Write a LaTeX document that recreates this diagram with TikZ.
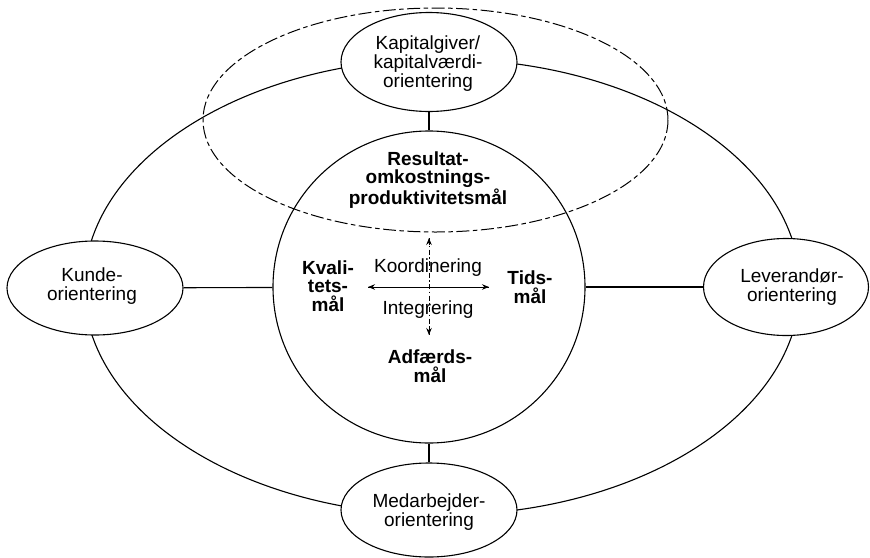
\documentclass[tikz,border=0pt]{standalone}
\usepackage{fontspec}
\setmainfont{Liberation Sans}
\usetikzlibrary{shapes.geometric,arrows.meta}
\begin{document}
\begin{tikzpicture}[x=1pt,y=-1pt,
  line width=1.1pt,
  every node/.style={font=\fontsize{19}{19}\selectfont, align=center, inner sep=0pt},
  orient/.style={ellipse, draw, fill=white, line width=1.1pt},
  goal/.style={font=\fontsize{19}{18.5}\selectfont\bfseries},
  tip/.style={-{Stealth[length=7pt,width=5.5pt]}}
]
\useasboundingbox (0,0) rectangle (870,557);

% outer ring linking the four orientations
\draw (442,287) ellipse [x radius=358, y radius=228];

% owner / capital-value field
\draw[line width=1pt, dash pattern=on 13pt off 3.5pt on 4.5pt off 3.5pt]
  (435.5,120) ellipse [x radius=232.5, y radius=112];

% goal circle
\node[circle, draw, line width=1.1pt, minimum size=312pt] (circ) at (429,287) {};

% orientations
\node[orient, minimum width=176pt, minimum height=99pt] (kap) at (429,62) {};
\node[orient, minimum width=176pt, minimum height=94pt] (kun) at (95,288) {};
\node[orient, minimum width=165pt, minimum height=97pt] (lev) at (786,287) {};
\node[orient, minimum width=176pt, minimum height=94pt] (med) at (429,510) {};

\node (kapt) at (428,64) {Kapitalgiver/\\kapitalværdi-\\orientering};
\node (kunt) at (92,286) {Kunde-\\orientering};
\node (levt) at (792,287) {Leverandør-\\orientering};
\node (medt) at (429,512) {Medarbejder-\\orientering};

% spokes
\draw (kap) -- (circ);
\draw (med) -- (circ);
\draw (kun) -- (circ);
\draw (lev) -- (circ);

% goals inside the circle
\node[goal] (res) at (428,180) {Resultat-\\omkostnings-\\produktivitetsmål};
\node[goal] (kva) at (328,286) {Kvali-\\tets-\\mål};
\node[goal] (tid) at (530,287) {Tids-\\mål};
\node[goal] (adf) at (430,366) {Adfærds-\\mål};

% coordination and integration axes
\coordinate (hl) at (368,287);
\coordinate (hr) at (489,287);
\coordinate (vt) at (429,238);
\coordinate (vb) at (429,335);
\draw[tip, line width=0.9pt] (hl) -- (hr);
\draw[tip, line width=0.9pt] (hr) -- (hl);
\draw[line width=0.7pt, dash pattern=on 5pt off 2.5pt on 1.5pt off 2.5pt] (vt) -- (vb);
\draw[tip, line width=0.8pt] (429,245) -- (vt);
\draw[tip, line width=0.8pt] (429,328) -- (vb);
\node (koo) at (428,268) {Koordinering};
\node (int) at (428,310) {Integrering};
\end{tikzpicture}
\end{document}
